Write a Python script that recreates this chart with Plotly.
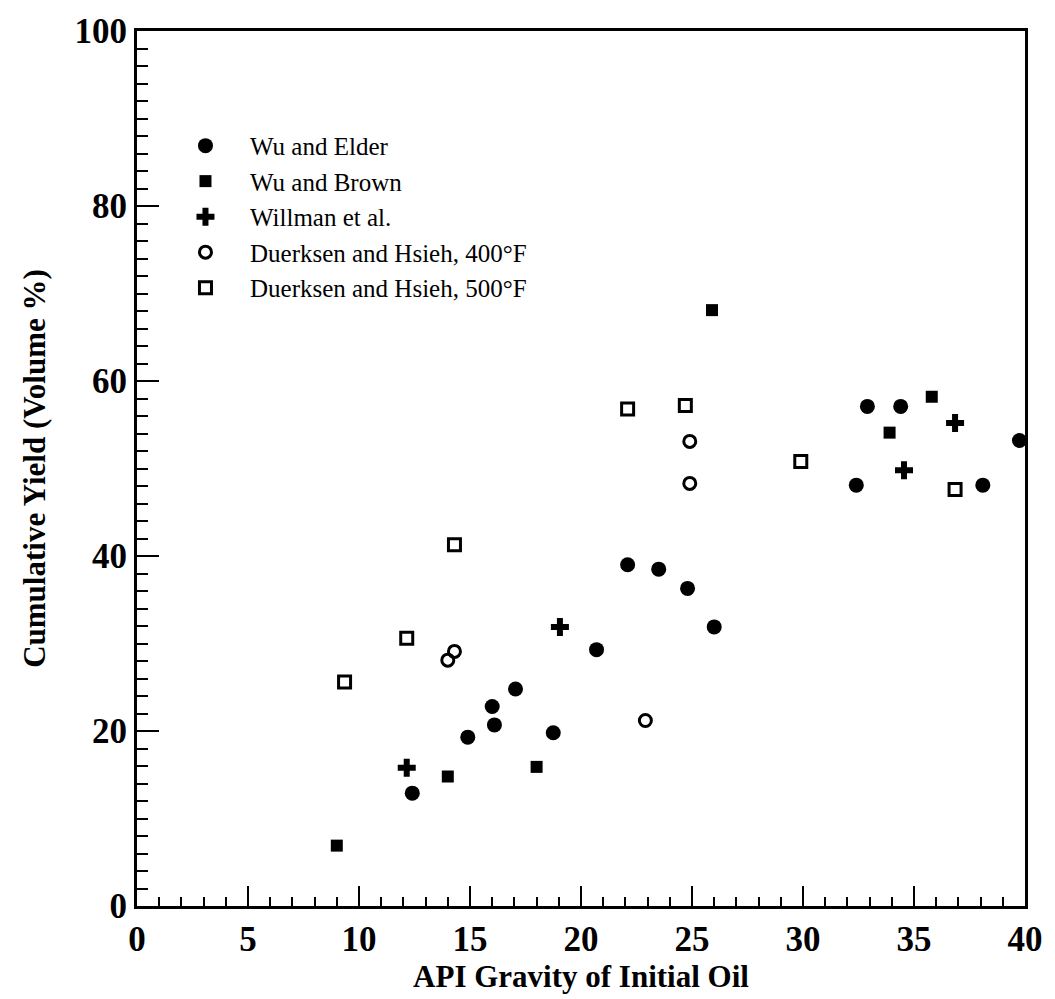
import plotly.graph_objects as go

# Wu and Elder (filled circles)
elder_x = [12.4, 14.9, 16.0, 16.1, 17.05, 18.75, 20.7, 22.1, 23.5, 24.8, 26.0, 32.4, 32.9, 34.4, 38.1, 39.75]
elder_y = [12.9, 19.3, 22.8, 20.7, 24.8, 19.8, 29.3, 39.0, 38.5, 36.3, 31.9, 48.1, 57.1, 57.1, 48.1, 53.2]

# Wu and Brown (filled squares)
brown_x = [9.0, 14.0, 18.0, 25.9, 33.9, 35.8]
brown_y = [6.9, 14.8, 15.9, 68.1, 54.1, 58.2]

# Willman et al. (crosses)
willman_x = [12.15, 19.05, 34.55, 36.85]
willman_y = [15.8, 31.9, 49.8, 55.2]

# Duerksen and Hsieh, 400F (open circles)
d400_x = [14.0, 14.3, 22.9, 24.9, 24.9]
d400_y = [28.1, 29.1, 21.2, 53.1, 48.3]

# Duerksen and Hsieh, 500F (open squares)
d500_x = [9.35, 12.15, 14.3, 22.1, 24.7, 29.9, 36.85]
d500_y = [25.6, 30.6, 41.3, 56.8, 57.2, 50.8, 47.6]

series = [
    ("Wu and Elder", elder_x, elder_y, "circle", 15, 0),
    ("Wu and Brown", brown_x, brown_y, "square", 12, 0),
    ("Willman et al.", willman_x, willman_y, "cross", 15, 0),
    ("Duerksen and Hsieh, 400°F", d400_x, d400_y, "circle-open", 12, 3),
    ("Duerksen and Hsieh, 500°F", d500_x, d500_y, "square-open", 12, 3),
]

fig = go.Figure()
for name, xs, ys, sym, sz, lw in series:
    fig.add_trace(go.Scatter(
        x=xs, y=ys, mode="markers", name=name,
        marker=dict(symbol=sym, size=sz, color="black",
                    line=dict(color="black", width=lw)),
    ))

serif = "Liberation Serif"
fig.update_layout(
    width=1055, height=999,
    margin=dict(l=137, r=27, t=30, b=93),
    plot_bgcolor="white", paper_bgcolor="white",
    font=dict(family=serif, color="black"),
    showlegend=True,
    legend=dict(x=0.027, y=0.895, xanchor="left", yanchor="top",
                font=dict(family=serif, size=25, color="black"),
                itemwidth=79,
                bgcolor="rgba(0,0,0,0)", tracegroupgap=0),
    xaxis=dict(
        range=[0, 40], tickvals=[0, 5, 10, 15, 20, 25, 30, 35, 40],
        ticks="inside", ticklen=20, tickwidth=2, tickcolor="black",
        minor=dict(dtick=1, ticks="inside", ticklen=9, tickwidth=2, tickcolor="black"),
        showline=True, linewidth=3, linecolor="black", mirror=True,
        showgrid=False, zeroline=False,
        tickfont=dict(family=serif, size=35, color="black", weight="bold"),
        title=dict(text="API Gravity of Initial Oil",
                   font=dict(family=serif, size=31, color="black", weight="bold"), standoff=2),
    ),
    yaxis=dict(
        range=[0, 100], tickvals=[0, 20, 40, 60, 80, 100],
        ticks="inside", ticklen=22, tickwidth=2, tickcolor="black",
        minor=dict(dtick=2, ticks="inside", ticklen=11, tickwidth=2, tickcolor="black"),
        showline=True, linewidth=3, linecolor="black", mirror=True,
        showgrid=False, zeroline=False,
        tickfont=dict(family=serif, size=35, color="black", weight="bold"),
        title=dict(text="Cumulative Yield (Volume %)",
                   font=dict(family=serif, size=31, color="black", weight="bold"), standoff=20),
    ),
)

fig.write_html("out.html")
